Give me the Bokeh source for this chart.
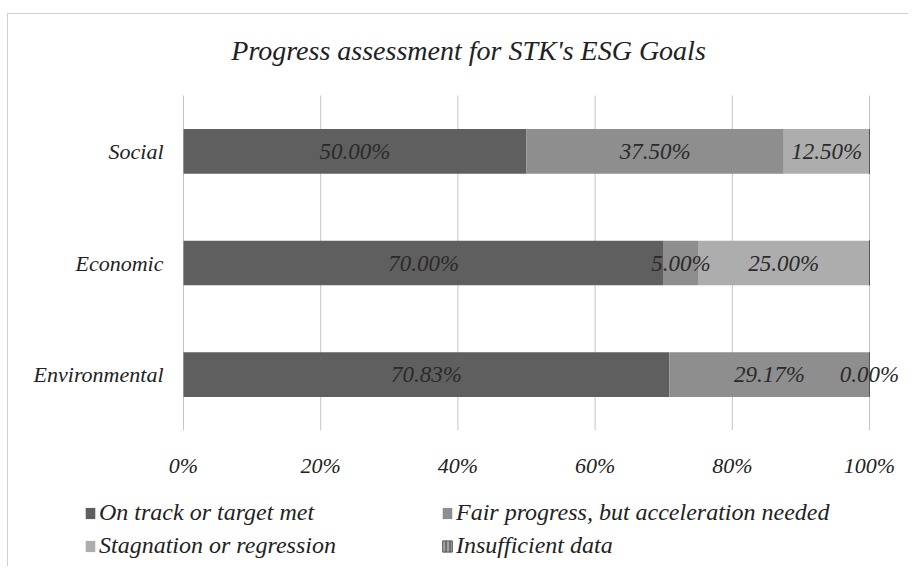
from bokeh.plotting import figure
from bokeh.layouts import column
from bokeh.models import (ColumnDataSource, FixedTicker, NumeralTickFormatter,
                          Legend, LegendItem, LabelSet, Label)
from bokeh.core.properties import value
from bokeh.embed import file_html
from bokeh.resources import INLINE

title_text = "Progress assessment for STK's ESG Goals"
pillars = ["Environmental", "Economic", "Social"]
series_names = ["On track or target met", "Fair progress, but acceleration needed",
                "Stagnation or regression", "Insufficient data"]
on_track = [70.83, 70.00, 50.00]
fair = [29.17, 5.00, 37.50]
stagnation = [0.00, 25.00, 12.50]
insufficient = [0.00, 0.00, 0.00]
x_ticks = [0, 20, 40, 60, 80, 100]

colors = ["#5f5f5f", "#8e8e8e", "#adadad", "#6e6e6e"]
FONT = "Liberation Serif"
TXT = "#222222"

# geometry (pixels): plot area spans 175..861 px horizontally, 81..416 px vertically
W = 900
PX_L, PX_R = 175, 861
PX_T, PX_B = 81, 416
ppx = (PX_R - PX_L)            # px per unit x (0..1)
ppy = (PX_B - PX_T) / len(pillars)   # px per category
xmin, xmax = -PX_L / ppx, (W - PX_L) / ppx
ymax = len(pillars) + PX_T / ppy

p = figure(output_backend="svg", toolbar_location=None,
           frame_width=W, frame_height=PX_B,
           min_border_left=0, min_border_right=0, min_border_top=0, min_border_bottom=60,
           x_range=(xmin, xmax), y_range=(0, ymax), y_axis_location=None)
p.outline_line_color = None
p.background_fill_color = "white"
p.border_fill_color = "white"
p.xgrid.grid_line_color = None
p.ygrid.grid_line_color = None

# vertical gridlines limited to the plot area
p.segment(x0=[t / 100 for t in x_ticks], y0=[0] * len(x_ticks),
          x1=[t / 100 for t in x_ticks], y1=[len(pillars)] * len(x_ticks),
          line_color="#c4c4c4", line_width=1)

ypos = [i + 0.5 for i in range(len(pillars))]
all_series = [on_track, fair, stagnation, insufficient]
left = [0.0] * len(pillars)
glyph_styles = []
sources = []
for k, vals in enumerate(all_series):
    fr = [v / 100 for v in vals]
    right = [l + f for l, f in zip(left, fr)]
    src = ColumnDataSource(dict(y=ypos, left=left, right=right,
                                mid=[(l + r) / 2 for l, r in zip(left, right)],
                                lab=["%.2f%%" % v for v in vals]))
    sources.append(src)
    kw = dict(fill_color=colors[k], line_color=None)
    if k == 3:
        kw.update(line_color="#555555", hatch_pattern="vertical_line", hatch_color="#dddddd",
                  hatch_scale=4, hatch_weight=1)
    glyph_styles.append(kw)
    p.hbar(y="y", left="left", right="right", height=0.4, source=src, **kw)
    if k < 3:
        p.add_layout(LabelSet(x="mid", y="y", text="lab", source=src, text_align="center",
                              text_baseline="middle", text_font=value(FONT),
                              text_font_style="italic", text_font_size="23px",
                              text_color="#2a2a2a"))
    left = right

# category labels
cat_src = ColumnDataSource(dict(x=[0] * len(pillars), y=ypos, name=pillars))
p.add_layout(LabelSet(x="x", y="y", text="name", source=cat_src, x_offset=-20,
                      text_align="right", text_baseline="middle", text_font=value(FONT),
                      text_font_style="italic", text_font_size="22px", text_color=TXT))

# title
p.add_layout(Label(x=0.4155, y=len(pillars), y_offset=45, text=title_text,
                   text_align="center", text_baseline="middle", text_font=FONT,
                   text_font_style="italic", text_font_size="28px", text_color=TXT))

p.xaxis.ticker = FixedTicker(ticks=[t / 100 for t in x_ticks])
p.xaxis.formatter = NumeralTickFormatter(format="0%")
ax = p.xaxis[0]
ax.axis_line_color = None
ax.major_tick_line_color = None
ax.minor_tick_line_color = None
ax.major_label_text_font = FONT
ax.major_label_text_font_style = "italic"
ax.major_label_text_font_size = "22px"
ax.major_label_text_color = TXT
ax.major_label_standoff = 16

# legend strip below the chart
lf = figure(output_backend="svg", toolbar_location=None, frame_width=W, frame_height=76,
            min_border=0, min_border_left=0, min_border_right=0, min_border_top=0,
            min_border_bottom=0, x_axis_location=None, y_axis_location=None,
            x_range=(0, 1), y_range=(10, 11))
lf.outline_line_color = None
lf.grid.grid_line_color = None
lf.border_fill_color = "white"
lf.background_fill_color = "white"
items = []
for k, name in enumerate(series_names):
    r = lf.hbar(y="y", left="left", right="right", height=0.4, source=sources[k],
                **glyph_styles[k])
    items.append(LegendItem(label=name, renderers=[r]))
items = [items[0], items[2], items[1], items[3]]   # column-major fill -> rows as in original
legend = Legend(items=items, ncols=2, location=(76, 7), padding=0, margin=0,
                border_line_color=None, background_fill_alpha=0,
                glyph_width=12, glyph_height=14, label_standoff=3, label_width=336,
                spacing=6, label_text_font=FONT, label_text_font_style="italic",
                label_text_font_size="24px", label_text_color=TXT)
lf.add_layout(legend)

layout = column(p, lf, spacing=0, margin=(13, 0, 0, 7),
                styles={"border-left": "1px solid #cfcfcf", "border-top": "1px solid #cfcfcf"})

open("out.html", "w").write(file_html(layout, INLINE))
